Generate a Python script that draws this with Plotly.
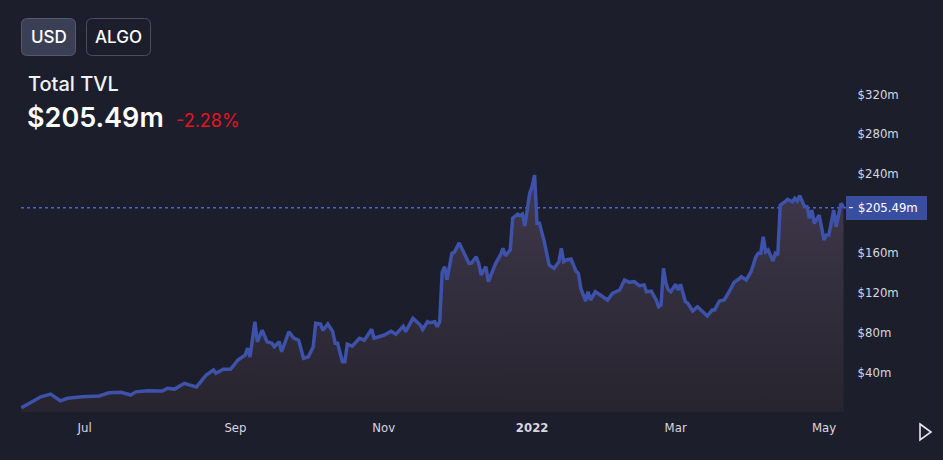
import plotly.graph_objects as go

dates = [
    "2021-06-05", "2021-06-09", "2021-06-13", "2021-06-17", "2021-06-19", "2021-06-21", "2021-06-24", "2021-06-30",
    "2021-07-07", "2021-07-11", "2021-07-16", "2021-07-20", "2021-07-22", "2021-07-27",
    "2021-08-02", "2021-08-04", "2021-08-07", "2021-08-11", "2021-08-13", "2021-08-16", "2021-08-20", "2021-08-23",
    "2021-08-24", "2021-08-27", "2021-08-30",
    "2021-09-02", "2021-09-05", "2021-09-06", "2021-09-07", "2021-09-09", "2021-09-10", "2021-09-12", "2021-09-14",
    "2021-09-16", "2021-09-17", "2021-09-19", "2021-09-20", "2021-09-23", "2021-09-25", "2021-09-27", "2021-09-29",
    "2021-10-01", "2021-10-03", "2021-10-04", "2021-10-06", "2021-10-07", "2021-10-09", "2021-10-11", "2021-10-12",
    "2021-10-13", "2021-10-15", "2021-10-16", "2021-10-17", "2021-10-19", "2021-10-22", "2021-10-24", "2021-10-27",
    "2021-10-28",
    "2021-11-01", "2021-11-04", "2021-11-06", "2021-11-09", "2021-11-10", "2021-11-13", "2021-11-16", "2021-11-17",
    "2021-11-19", "2021-11-20", "2021-11-22", "2021-11-23", "2021-11-24", "2021-11-25", "2021-11-26", "2021-11-27",
    "2021-11-29", "2021-11-30",
    "2021-12-02", "2021-12-04", "2021-12-06", "2021-12-07", "2021-12-09", "2021-12-10", "2021-12-11", "2021-12-13",
    "2021-12-14", "2021-12-17", "2021-12-19", "2021-12-20", "2021-12-21", "2021-12-23", "2021-12-24", "2021-12-26",
    "2021-12-27", "2021-12-28", "2021-12-29", "2021-12-31",
    "2022-01-01", "2022-01-02", "2022-01-03", "2022-01-04", "2022-01-06", "2022-01-08", "2022-01-10", "2022-01-12",
    "2022-01-13", "2022-01-14", "2022-01-15", "2022-01-17", "2022-01-19", "2022-01-20", "2022-01-21", "2022-01-23",
    "2022-01-24", "2022-01-25", "2022-01-27", "2022-01-29",
    "2022-02-01", "2022-02-03", "2022-02-06", "2022-02-08", "2022-02-10", "2022-02-12", "2022-02-14", "2022-02-16",
    "2022-02-17", "2022-02-19", "2022-02-21", "2022-02-22", "2022-02-23", "2022-02-24", "2022-02-25", "2022-02-26",
    "2022-02-27",
    "2022-03-01", "2022-03-02", "2022-03-03", "2022-03-05", "2022-03-06", "2022-03-08", "2022-03-10", "2022-03-12",
    "2022-03-14", "2022-03-16", "2022-03-17", "2022-03-19", "2022-03-21", "2022-03-23", "2022-03-25", "2022-03-27",
    "2022-03-28", "2022-03-30",
    "2022-04-01", "2022-04-03", "2022-04-04", "2022-04-05", "2022-04-06", "2022-04-07", "2022-04-08", "2022-04-10",
    "2022-04-11", "2022-04-12", "2022-04-13", "2022-04-15", "2022-04-16", "2022-04-18", "2022-04-19", "2022-04-20",
    "2022-04-21", "2022-04-23", "2022-04-24", "2022-04-25", "2022-04-26", "2022-04-27", "2022-04-29",
    "2022-05-01", "2022-05-02", "2022-05-03", "2022-05-05", "2022-05-06", "2022-05-08", "2022-05-09",
]

tvl_musd = [
    4, 10, 15, 17.8, 14.5, 11, 13.5, 15,
    15.8, 19, 19.5, 16.8, 20, 21,
    20.8, 23.5, 22.8, 28.6, 27, 25, 37, 42, 38.7, 42.7, 42.7,
    52, 57, 64, 55, 90.6, 70.5, 82, 70.5, 69, 65.5, 70.5, 60.4, 80.6, 74, 72, 53.8,
    55.4, 65.5, 89, 88.3, 82, 88.3, 80.6, 69, 69, 50.4, 50.4, 68, 66, 74, 72, 83, 74,
    77, 81, 78, 86, 80.6, 94, 87.3, 83, 90.6, 89.6, 90.6, 85.6, 90.6, 140, 146, 133, 159.5, 160.5,
    170, 159.5, 149.4, 149.4, 156, 149.4, 137.7, 146, 131, 149.4, 158, 164.5, 157, 163, 195, 199,
    197.4, 199, 187, 220,
    226.6, 238.4, 189.7, 189.7, 171, 147.7, 144.4, 151, 164.5, 151, 152.8, 153.8, 141.7, 139.4, 124.3,
    111.5, 120.8, 112.5, 120.8, 117.5,
    112.5, 119.2, 122.6, 132.6, 130.3, 131, 126.9, 127.6, 120.8, 121.5, 112.5, 105.7, 107.4, 144.4, 129.3,
    122.6, 120.8,
    128.3, 122.6, 128.3, 110.8, 109.2, 101.4, 105.7, 101.4, 96.4, 102.4, 102.4, 111.5, 112.5, 120.8, 130.3,
    133.6, 136, 132.6,
    141, 156, 159.5, 159.5, 176.2, 161, 162.8, 151.8, 159.5, 157.8, 208, 211.5, 213.9, 211.5, 215, 212.2,
    217.6, 206.4, 206.4, 194.8, 203, 189.7, 198,
    173, 178, 178, 203, 186.3, 209.9, 205.49,
]

y_tick_values = [40, 80, 120, 160, 240, 280, 320]
y_tick_labels = ["$40m", "$80m", "$120m", "$160m", "$240m", "$280m", "$320m"]
x_tick_values = ["2021-07-01", "2021-09-01", "2021-11-01", "2022-01-01", "2022-03-01", "2022-05-01"]
x_tick_labels = ["Jul", "Sep", "Nov", "<b>2022</b>", "Mar", "May"]

last_value = 205.49
title_text = "Total TVL"
value_text = "$205.49m"
change_text = "-2.28%"
buttons = ["USD", "ALGO"]

W, H = 943, 460
ML, MR, MT, MB = 15, 97, 60, 46
PW, PH = W - ML - MR, H - MT - MB

BG = "#1d1e2b"
LINE = "#3d52a8"
AXIS_FONT = "Liberation Sans Narrow, DejaVu Sans Condensed, Arial Narrow, sans-serif"
UI_FONT = "Inter, Roboto, sans-serif"


def px(x):
    return (x - ML) / PW


def py(y):
    return (H - MB - y) / PH


def rrect(x0, y0, x1, y1, r):
    pts = [
        ("M", [(x0 + r, y0)]), ("L", [(x1 - r, y0)]), ("Q", [(x1, y0), (x1, y0 + r)]),
        ("L", [(x1, y1 - r)]), ("Q", [(x1, y1), (x1 - r, y1)]), ("L", [(x0 + r, y1)]),
        ("Q", [(x0, y1), (x0, y1 - r)]), ("L", [(x0, y0 + r)]), ("Q", [(x0, y0), (x0 + r, y0)]),
    ]
    s = ""
    for cmd, ps in pts:
        s += cmd + " " + " ".join(f"{px(a):.5f},{py(b):.5f}" for a, b in ps) + " "
    return s + "Z"


fig = go.Figure()
fig.add_trace(go.Scatter(
    x=dates, y=tvl_musd, mode="lines",
    line=dict(color=LINE, width=3.5),
    fill="tozeroy",
    fillgradient=dict(type="vertical", start=0, stop=240,
                      colorscale=[[0, "rgba(40,37,48,0.9)"], [1, "rgba(64,57,76,1)"]]),
    hoverinfo="skip",
))

shapes = []
# dotted last-value line
shapes.append(dict(type="line", xref="paper", yref="y", x0=px(21), x1=1, y0=last_value, y1=last_value,
                   line=dict(color="#4d62c4", width=1.5, dash="dot"), layer="below"))
# price label box
shapes.append(dict(type="rect", xref="paper", yref="paper", x0=px(846), x1=px(927), y0=py(220), y1=py(196),
                   fillcolor="#3a4ea0", line=dict(width=0)))
shapes.append(dict(type="line", xref="paper", yref="y", x0=px(849), x1=px(853), y0=last_value, y1=last_value,
                   line=dict(color="#ffffff", width=1)))
# buttons
shapes.append(dict(type="path", xref="paper", yref="paper", path=rrect(21.5, 18.5, 75.5, 55.5, 6),
                   fillcolor="#3b3f55", line=dict(color="#555a70", width=1)))
shapes.append(dict(type="path", xref="paper", yref="paper", path=rrect(86.5, 18.5, 150.5, 55.5, 6),
                   fillcolor="rgba(0,0,0,0)", line=dict(color="#4a4e62", width=1)))
# play icon
shapes.append(dict(type="path", xref="paper", yref="paper",
                   path=f"M {px(920):.5f},{py(424):.5f} L {px(931):.5f},{py(432):.5f} L {px(920):.5f},{py(440):.5f} Z",
                   fillcolor="rgba(0,0,0,0)", line=dict(color="#e6e6ea", width=1.6)))

annotations = [
    dict(text=buttons[0], x=px(48.5), y=py(37), xref="paper", yref="paper", showarrow=False,
         xanchor="center", yanchor="middle", font=dict(family=UI_FONT, size=17, color="#ffffff", weight=500)),
    dict(text=buttons[1], x=px(118.5), y=py(37), xref="paper", yref="paper", showarrow=False,
         xanchor="center", yanchor="middle", font=dict(family=UI_FONT, size=17, color="#ffffff", weight=500)),
    dict(text=title_text, x=px(26), y=py(84), xref="paper", yref="paper", showarrow=False,
         xanchor="left", yanchor="middle", font=dict(family=UI_FONT, size=20, color="#f2f2f5", weight=500)),
    dict(text=value_text, x=px(25), y=py(117), xref="paper", yref="paper", showarrow=False,
         xanchor="left", yanchor="middle", font=dict(family=UI_FONT, size=27, color="#ffffff", weight=600)),
    dict(text=change_text, x=px(174), y=py(120), xref="paper", yref="paper", showarrow=False,
         xanchor="left", yanchor="middle", font=dict(family=UI_FONT, size=18, color="#e5141e")),
    dict(text=value_text, x=px(856), y=last_value, xref="paper", yref="y", showarrow=False,
         xanchor="left", yanchor="middle", font=dict(family=AXIS_FONT, size=13, color="#ffffff")),
]

fig.update_layout(
    width=W, height=H,
    margin=dict(l=ML, r=MR, t=MT, b=MB),
    paper_bgcolor=BG, plot_bgcolor="rgba(0,0,0,0)",
    showlegend=False,
    shapes=shapes,
    annotations=annotations,
    xaxis=dict(
        type="date", range=["2021-06-02 09:00", "2022-05-10 01:00"],
        tickvals=x_tick_values, ticktext=x_tick_labels,
        showgrid=False, zeroline=False, showline=False,
        ticks="outside", ticklen=1, tickcolor=BG,
        tickfont=dict(family=AXIS_FONT, size=13, color="#d6d8e0"),
        fixedrange=True,
    ),
    yaxis=dict(
        side="right", range=[-2.3, 354.2],
        tickvals=y_tick_values, ticktext=y_tick_labels,
        showgrid=False, zeroline=False, showline=False,
        ticks="outside", ticklen=8, tickcolor=BG,
        tickfont=dict(family=AXIS_FONT, size=13, color="#d6d8e0"),
        fixedrange=True,
    ),
)

fig.write_html("out.html", config={"displayModeBar": False})
